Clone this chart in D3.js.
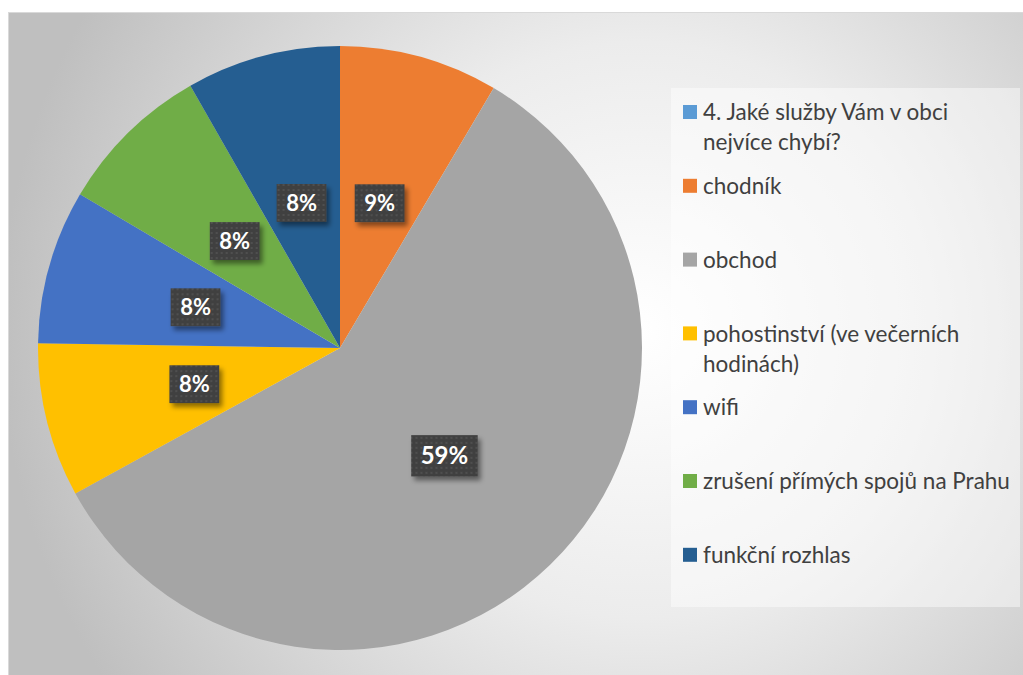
<!DOCTYPE html>
<html>
<head>
<meta charset="utf-8">
<script src="https://cdn.jsdelivr.net/npm/d3@7"></script>
<style>
  html, body { margin: 0; padding: 0; background: #fff; }
  svg { display: block; }
</style>
</head>
<body>
<svg id="chart" width="1023" height="675"></svg>
<script>
// ---- data ----
const categories = [
  "4. Jaké služby Vám v obci nejvíce chybí?",
  "chodník",
  "obchod",
  "pohostinství (ve večerních hodinách)",
  "wifi",
  "zrušení přímých spojů na Prahu",
  "funkční rozhlas"
];
const values = [0, 8.5, 58.5, 8.25, 8.25, 8.25, 8.25];
const colors = ["#5B9BD5", "#ED7D31", "#A5A5A5", "#FFC000", "#4472C4", "#70AD47", "#255E91"];

// ---- layout ----
const W = 1023, H = 675;
const svg = d3.select("#chart");
const defs = svg.append("defs");

const bg = defs.append("radialGradient").attr("id", "bgGrad")
  .attr("gradientUnits", "userSpaceOnUse")
  .attr("cx", 640).attr("cy", 330).attr("r", 640);
bg.append("stop").attr("offset", "0").attr("stop-color", "#ffffff");
bg.append("stop").attr("offset", "0.45").attr("stop-color", "#ececec");
bg.append("stop").attr("offset", "1").attr("stop-color", "#bfbfbf");

const pat = defs.append("pattern").attr("id", "dots")
  .attr("patternUnits", "userSpaceOnUse").attr("width", 5).attr("height", 5);
pat.append("rect").attr("width", 5).attr("height", 5).attr("fill", "#404040");
pat.append("rect").attr("x", 1).attr("y", 1).attr("width", 2).attr("height", 2).attr("fill", "#505050");

const sh = defs.append("filter").attr("id", "shadow")
  .attr("x", "-30%").attr("y", "-30%").attr("width", "160%").attr("height", "180%");
sh.append("feDropShadow").attr("dx", 3).attr("dy", 4).attr("stdDeviation", 2.5)
  .attr("flood-color", "#000").attr("flood-opacity", 0.45);

svg.append("rect").attr("width", W).attr("height", H).attr("fill", "#fff");
svg.append("rect").attr("x", 8.5).attr("y", 12.5).attr("width", W - 8).attr("height", H - 12)
  .attr("fill", "url(#bgGrad)").attr("stroke", "#d9d9d9").attr("stroke-width", 1);

// ---- pie ----
const cx = 340, cy = 348, R = 302;
const pie = d3.pie().sort(null).value(d => d)(values);
const arc = d3.arc().innerRadius(0).outerRadius(R);
const labelArc = d3.arc().innerRadius(R * 0.497).outerRadius(R * 0.497);

const g = svg.append("g").attr("transform", `translate(${cx},${cy})`);
g.selectAll("path.slice").data(pie).join("path")
  .attr("class", "slice")
  .attr("d", arc)
  .attr("fill", (d, i) => colors[i]);

const maxVal = d3.max(values);
const lbls = g.selectAll("g.lbl").data(pie.filter(d => d.value > 0)).join("g")
  .attr("class", "lbl")
  .attr("transform", d => `translate(${labelArc.centroid(d)})`);

lbls.each(function(d) {
  const sel = d3.select(this);
  const fs = d.value === maxVal ? 24 : 22;
  const rect = sel.append("rect").attr("fill", "url(#dots)").attr("filter", "url(#shadow)");
  const t = sel.append("text")
    .attr("text-anchor", "middle")
    .attr("dy", "0.36em")
    .attr("font-family", "Lato, 'Open Sans', sans-serif")
    .attr("font-weight", "bold")
    .attr("font-size", fs)
    .attr("fill", "#fff")
    .text(Math.round(d.value) + "%");
  const tw = t.node().getComputedTextLength();
  const bw = tw + 19, bh = fs * 1.72;
  rect.attr("x", -bw / 2).attr("y", -bh / 2).attr("width", bw).attr("height", bh);
});

// ---- legend ----
const lx = 671, ly = 88, lw = 349, lh = 519;
svg.append("rect").attr("x", lx).attr("y", ly).attr("width", lw).attr("height", lh)
  .attr("fill", "#ffffff").attr("fill-opacity", 0.45);

const itemStep = 73.8, firstY = 112, lineH = 30, maxTextW = 312;
const leg = svg.append("g");
categories.forEach((c, i) => {
  const y = firstY + i * itemStep;
  leg.append("rect").attr("x", 683).attr("y", y - 7).attr("width", 14).attr("height", 14)
    .attr("fill", colors[i]);
  const t = leg.append("text")
    .attr("x", 703).attr("y", y)
    .attr("dy", "0.36em")
    .attr("font-family", "Lato, 'Open Sans', sans-serif")
    .attr("font-size", 22.5)
    .attr("fill", "#404040");
  // word wrap
  const words = c.split(" ");
  let line = [], lineNo = 0;
  let ts = t.append("tspan").attr("x", 703).attr("y", y).attr("dy", "0.36em");
  words.forEach(w => {
    line.push(w);
    ts.text(line.join(" "));
    if (ts.node().getComputedTextLength() > maxTextW && line.length > 1) {
      line.pop();
      ts.text(line.join(" "));
      line = [w];
      lineNo++;
      ts = t.append("tspan").attr("x", 703).attr("y", y + lineNo * lineH).attr("dy", "0.36em").text(w);
    }
  });
});
</script>
</body>
</html>
